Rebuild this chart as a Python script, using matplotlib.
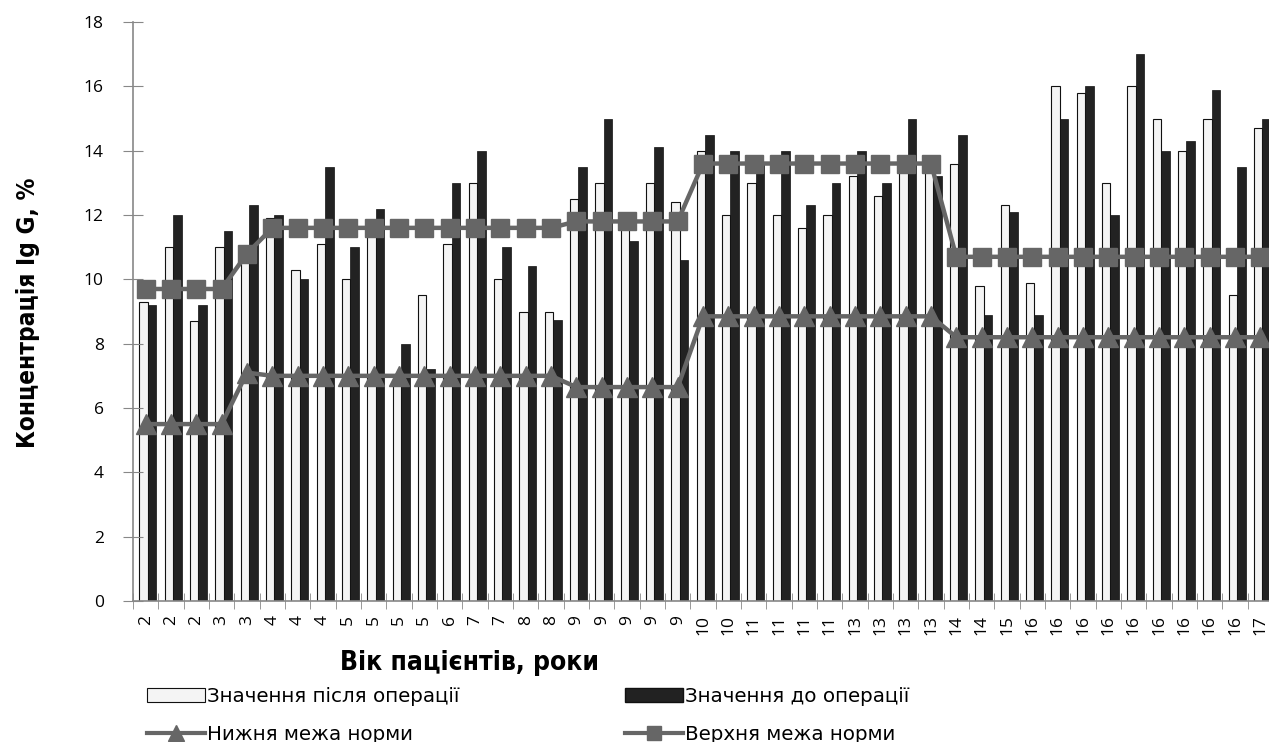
import matplotlib
matplotlib.use("Agg")
from matplotlib import pyplot as plt
from matplotlib.patches import Patch
from matplotlib.lines import Line2D
import numpy as np

# вік пацієнтів (підписи осі X)
ages = [2, 2, 2, 3, 3, 4, 4, 4, 5, 5, 5, 5, 6, 7, 7, 8, 8, 9, 9, 9, 9, 9, 10, 10,
        11, 11, 11, 11, 13, 13, 13, 13, 14, 14, 15, 16, 16, 16, 16, 16, 16, 16, 16, 16, 17]
# значення після операції
after = [9.3, 11.0, 8.7, 11.0, 10.7, 11.9, 10.3, 11.1, 10.0, 11.6, 6.9, 9.5, 11.1, 13.0, 10.0,
         9.0, 9.0, 12.5, 13.0, 11.8, 13.0, 12.4, 14.0, 12.0, 13.0, 12.0, 11.6, 12.0, 13.2, 12.6,
         13.4, 13.4, 13.6, 9.8, 12.3, 9.9, 16.0, 15.8, 13.0, 16.0, 15.0, 14.0, 15.0, 9.5, 14.7]
# значення до операції
before = [9.2, 12.0, 9.2, 11.5, 12.3, 12.0, 10.0, 13.5, 11.0, 12.2, 8.0, 7.2, 13.0, 14.0, 11.0,
          10.4, 8.75, 13.5, 15.0, 11.2, 14.1, 10.6, 14.5, 14.0, 13.6, 14.0, 12.3, 13.0, 14.0, 13.0,
          15.0, 13.2, 14.5, 8.9, 12.1, 8.9, 15.0, 16.0, 12.0, 17.0, 14.0, 14.3, 15.9, 13.5, 15.0]
# нижня межа норми
lower = [5.5, 5.5, 5.5, 5.5, 7.1, 7.0, 7.0, 7.0, 7.0, 7.0, 7.0, 7.0, 7.0, 7.0, 7.0,
         7.0, 7.0, 6.65, 6.65, 6.65, 6.65, 6.65, 8.85, 8.85, 8.85, 8.85, 8.85, 8.85, 8.85, 8.85,
         8.85, 8.85, 8.2, 8.2, 8.2, 8.2, 8.2, 8.2, 8.2, 8.2, 8.2, 8.2, 8.2, 8.2, 8.2]
# верхня межа норми
upper = [9.7, 9.7, 9.7, 9.7, 10.8, 11.6, 11.6, 11.6, 11.6, 11.6, 11.6, 11.6, 11.6, 11.6, 11.6,
         11.6, 11.6, 11.8, 11.8, 11.8, 11.8, 11.8, 13.6, 13.6, 13.6, 13.6, 13.6, 13.6, 13.6, 13.6,
         13.6, 13.6, 10.7, 10.7, 10.7, 10.7, 10.7, 10.7, 10.7, 10.7, 10.7, 10.7, 10.7, 10.7, 10.7]

lbl_font = ['DejaVu Sans']
tick_font = ['Open Sans', 'DejaVu Sans']

W, H = 1269, 742
fig = plt.figure(figsize=(W / 100, H / 100), dpi=100)
# axes runs past the right edge as in the original (last bar is cut)
ax = fig.add_axes([133 / W, (H - 601) / H, (1273 - 133) / W, (601 - 22) / H])

x = np.arange(len(ages))
ax.bar(x - 0.09, after, width=0.33, color='#f4f4f4', edgecolor='#111111', linewidth=0.8)
ax.bar(x + 0.25, before, width=0.34, color='#222222', edgecolor='#111111', linewidth=0.5)
ax.plot(x, lower, color='#666666', lw=3.2, marker='^', markersize=14, zorder=5)
ax.plot(x, upper, color='#666666', lw=3.2, marker='s', markersize=13, zorder=5)

ax.set_xlim(-0.5, len(ages) - 0.5)
ax.set_ylim(0, 18)
ax.set_yticks(np.arange(0, 19, 2))
ax.set_xticks(x)
ax.set_xticklabels([str(a) for a in ages], rotation=90, family=tick_font, fontsize=12.5)
for t in ax.get_yticklabels():
    t.set_family(tick_font)
    t.set_fontsize(12.5)
ax.set_xticks(np.arange(-0.5, len(ages), 1), minor=True)
ax.tick_params(axis='x', which='major', length=0, pad=10)
ax.tick_params(axis='x', which='minor', direction='inout', length=12, color='#888888')
ax.tick_params(axis='y', direction='inout', length=14, color='#888888', pad=14)

for s in ['top', 'right']:
    ax.spines[s].set_visible(False)
for s in ['left', 'bottom']:
    ax.spines[s].set_color('#888888')
    ax.spines[s].set_linewidth(1.2)

fig.text(28 / W, (H - 313) / H, 'Концентрація Ig G, %', rotation=90, ha='center', va='center',
         fontsize=17.5, fontweight='bold', family=lbl_font, fontstretch='condensed')
fig.text(470 / W, (H - 663) / H, 'Вік пацієнтів, роки', ha='center', va='center',
         fontsize=19, fontweight='bold', family=lbl_font, fontstretch='condensed')

h_after = Patch(facecolor='#f4f4f4', edgecolor='#111111', linewidth=0.8)
h_before = Patch(facecolor='#222222', edgecolor='#111111')
h_low = Line2D([], [], color='#666666', lw=3, marker='^', markersize=11)
h_up = Line2D([], [], color='#666666', lw=3, marker='s', markersize=10)

kw = dict(frameon=False, handlelength=2.9, handleheight=0.75, handletextpad=0.1,
          labelspacing=0.95, borderaxespad=0, borderpad=0,
          prop={'family': lbl_font, 'size': 14.3})
fig.legend([h_after, h_low], ['Значення після операції', 'Нижня межа норми'],
           loc='upper left', bbox_to_anchor=(147 / W, (H - 687) / H), **kw)
fig.legend([h_before, h_up], ['Значення до операції', 'Верхня межа норми'],
           loc='upper left', bbox_to_anchor=(625 / W, (H - 687) / H), **kw)

fig.savefig('out.png', dpi=100)
